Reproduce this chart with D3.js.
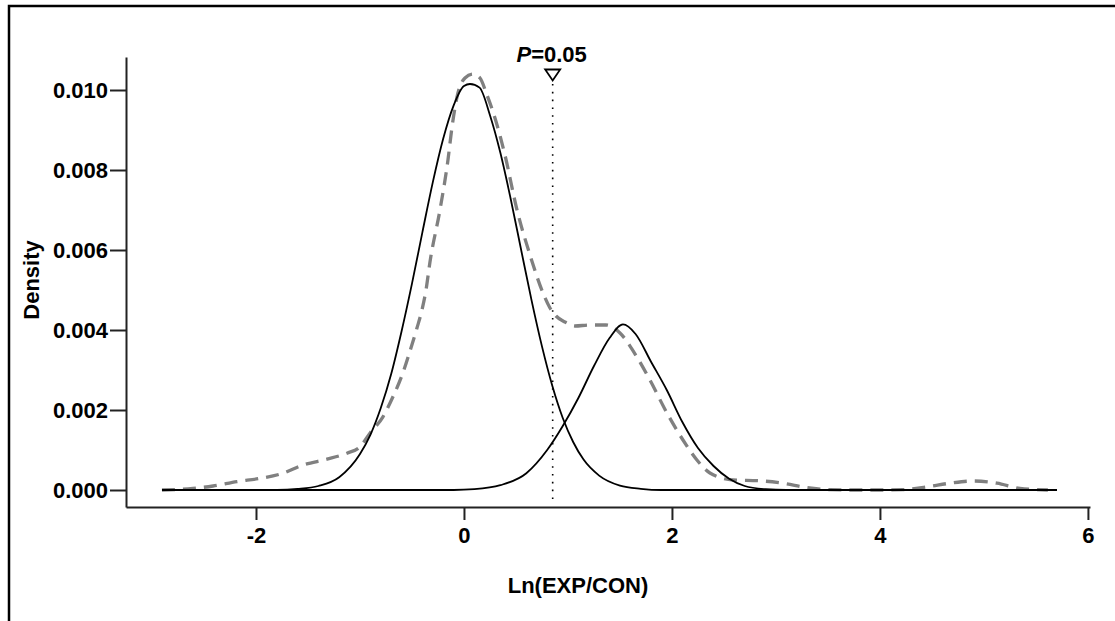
<!DOCTYPE html>
<html>
<head>
<meta charset="utf-8">
<script src="https://cdn.jsdelivr.net/npm/d3@7"></script>
<style>
  body { margin: 0; background: #fff; }
  svg { display: block; font-family: "Liberation Sans", Arial, sans-serif; font-weight: bold; }
</style>
</head>
<body>
<div id="chart-container"></div>
<script>
// kernel density of the observed ratios (dashed grey)
const kdeX = [-2.904, -2.606, -2.413, -2.183, -1.962, -1.74, -1.548, -1.317, -1.125, -1.0, -0.904, -0.779,
  -0.683, -0.587, -0.51, -0.452, -0.404, -0.365, -0.327, -0.231, -0.154, -0.115, -0.058, 0.01, 0.087, 0.154,
  0.221, 0.298, 0.394, 0.51, 0.635, 0.76, 0.827, 0.885, 0.971, 1.067, 1.212, 1.365, 1.5, 1.663, 1.788, 1.952,
  2.106, 2.24, 2.365, 2.587, 2.846, 3.067, 3.298, 3.519, 3.74, 4.0, 4.221, 4.452, 4.673, 4.894, 5.125, 5.346, 5.615];
const kdeY = [0, 0.00004, 0.0001, 0.00021, 0.00029, 0.00042, 0.000625, 0.00077, 0.00092, 0.00108, 0.00142, 0.00183,
  0.00233, 0.00293, 0.00355, 0.00405, 0.0045, 0.005, 0.0057, 0.007, 0.00825, 0.009075, 0.009925, 0.0103, 0.0104, 0.0103,
  0.009875, 0.0093, 0.008375, 0.007, 0.005875, 0.004925, 0.00455, 0.00435, 0.0042, 0.0041, 0.004125, 0.004125, 0.003925, 0.003325, 0.00275, 0.001925,
  0.00125, 0.00075, 0.000425, 0.00025, 0.00023, 0.00017, 0.00006, 0.00001, 0, 0, 0.00001, 0.00008, 0.00017, 0.000225, 0.00017, 0.00004, 0];

// first fitted component (solid)
const comp1X = [-2.904, -1.8, -1.6, -1.4, -1.2, -1.0, -0.9, -0.8, -0.7, -0.6, -0.5, -0.4, -0.3, -0.2, -0.1, 0.0, 0.058,
  0.15, 0.25, 0.35, 0.45, 0.55, 0.65, 0.75, 0.85, 0.95, 1.05, 1.15, 1.3, 1.5, 1.7, 1.9, 5.702];
const comp1Y = [0, 0, 0.000025, 0.0001, 0.00032, 0.0009, 0.00138, 0.00205, 0.0029, 0.00397, 0.00516, 0.00644, 0.00769,
  0.00878, 0.00961, 0.0101, 0.01015, 0.01006, 0.00937, 0.00843, 0.00727, 0.006, 0.00474, 0.00359, 0.0026, 0.0018, 0.0012,
  0.00076, 0.00036, 0.00011, 0.00003, 0, 0];

// second fitted component (solid)
const comp2X = [-2.904, -0.1, 0.1, 0.35, 0.6, 0.8, 0.95, 1.1, 1.25, 1.4, 1.529, 1.65, 1.8, 1.95, 2.1, 2.25, 2.4, 2.55,
  2.7, 2.9, 3.1, 5.702];
const comp2Y = [0, 0, 0.00002, 0.00012, 0.00042, 0.001, 0.0016, 0.0023, 0.0031, 0.0038, 0.00414, 0.0039, 0.0032, 0.0025,
  0.0017, 0.00105, 0.0006, 0.00028, 0.0001, 0.00002, 0, 0];

const cutoff = 0.853;
const cutoffLabel = "=0.05";
const xTicks = [-2, 0, 2, 4, 6];
const yTicks = [0, 0.002, 0.004, 0.006, 0.008, 0.01];

let width = 1115;
let height = 621;

var svg = d3
  .select("#chart-container")
  .append("svg")
  .attr("width", width)
  .attr("height", height);

// outer frame
svg
  .append("rect")
  .attr("x", 9)
  .attr("y", 6)
  .attr("width", 1200)
  .attr("height", 700)
  .attr("fill", "none")
  .attr("stroke", "#000")
  .attr("stroke-width", 2.5);

let xScale = d3.scaleLinear().domain([-3.25, 6.02]).range([126, 1090]);
let yScale = d3.scaleLinear().domain([-0.000425, 0.010825]).range([507, 57]);

// axes
let xAxis = svg
  .append("g")
  .attr("transform", "translate(0,507)")
  .call(d3.axisBottom(xScale).tickValues(xTicks).tickSize(13).tickPadding(7).tickSizeOuter(0).tickFormat((d) => String(d)));

let yAxis = svg
  .append("g")
  .attr("transform", "translate(126,0)")
  .call(d3.axisLeft(yScale).tickValues(yTicks).tickSize(16).tickPadding(2).tickSizeOuter(0).tickFormat(d3.format(".3f")));

[xAxis, yAxis].forEach((ax) => {
  ax.select(".domain").attr("stroke", "#222").attr("stroke-width", 2);
  ax.selectAll(".tick line").attr("stroke", "#222").attr("stroke-width", 2);
  ax.selectAll(".tick text")
    .attr("fill", "#000")
    .style("font-size", "22px")
    .style("font-weight", "bold")
    .style("font-family", '"Liberation Sans", Arial, sans-serif');
});

let line = d3
  .line()
  .x((d) => xScale(d[0]))
  .y((d) => yScale(d[1]))
  .curve(d3.curveMonotoneX);

// density estimate
svg
  .append("path")
  .datum(kdeX.map((x, i) => [x, kdeY[i]]))
  .attr("d", line)
  .attr("fill", "none")
  .attr("stroke", "#808080")
  .attr("stroke-width", 3.3)
  .attr("stroke-dasharray", "13,8");

// fitted components
[[comp1X, comp1Y], [comp2X, comp2Y]].forEach(([xs, ys]) => {
  svg
    .append("path")
    .datum(xs.map((x, i) => [x, ys[i]]))
    .attr("d", line)
    .attr("fill", "none")
    .attr("stroke", "#000")
    .attr("stroke-width", 1.8);
});

// cutoff marker
let cx = xScale(cutoff);
svg
  .append("line")
  .attr("x1", cx)
  .attr("x2", cx)
  .attr("y1", 84)
  .attr("y2", 502)
  .attr("stroke", "#000")
  .attr("stroke-width", 1.6)
  .attr("stroke-dasharray", "1.6,6.2");

svg
  .append("path")
  .attr("d", `M${cx - 7.5},69.5 L${cx + 7.5},69.5 L${cx},80.5 Z`)
  .attr("fill", "#fff")
  .attr("stroke", "#000")
  .attr("stroke-width", 1.8);

let pLabel = svg
  .append("text")
  .attr("x", cx - 1)
  .attr("y", 62)
  .attr("text-anchor", "middle")
  .style("font-size", "22px");
pLabel.append("tspan").style("font-style", "italic").text("P");
pLabel.append("tspan").text(cutoffLabel);

// axis titles
svg
  .append("text")
  .attr("x", 578)
  .attr("y", 593)
  .attr("text-anchor", "middle")
  .style("font-size", "22px")
  .text("Ln(EXP/CON)");

svg
  .append("text")
  .attr("transform", "translate(39,280) rotate(-90)")
  .attr("text-anchor", "middle")
  .style("font-size", "22px")
  .text("Density");
</script>
</body>
</html>
